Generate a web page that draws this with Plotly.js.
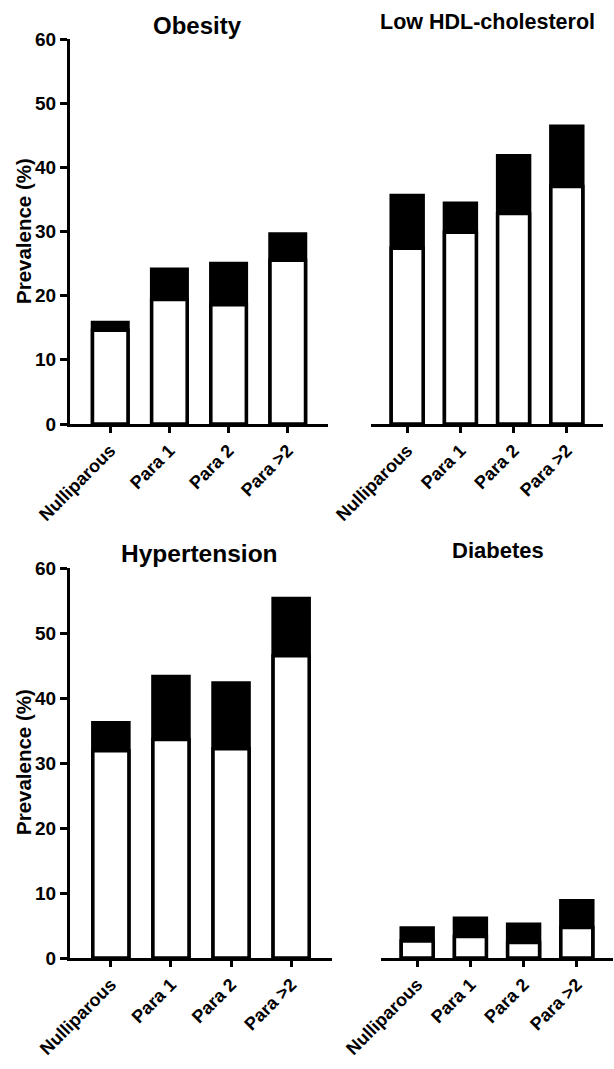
<!DOCTYPE html>
<html>
<head>
<meta charset="utf-8">
<script src="https://cdn.plot.ly/plotly-3.0.1.min.js"></script>
<style>
html,body{margin:0;padding:0;background:#fff;}
#chart{width:614px;height:1069px;}
</style>
</head>
<body>
<div id="chart"></div>
<script>
// Data
const categories = ['Nulliparous', 'Para 1', 'Para 2', 'Para >2'];

const obesityTotal = [15.8, 24.1, 25.0, 29.6];
const obesityLower = [14.6, 19.4, 18.6, 25.5];

const hdlTotal = [35.6, 34.4, 41.8, 46.4];
const hdlLower = [27.4, 29.9, 32.8, 37.0];

const hyperTotal = [36.2, 43.3, 42.3, 55.3];
const hyperLower = [31.9, 33.6, 32.2, 46.5];

const diabTotal = [4.6, 6.1, 5.2, 8.8];
const diabLower = [2.6, 3.3, 2.4, 4.7];

const yTickVals = [0, 10, 20, 30, 40, 50, 60];
const panelTitles = ['Obesity', 'Low HDL-cholesterol', 'Hypertension', 'Diabetes'];
const yTitle = 'Prevalence (%)';

const FONT = 'Liberation Sans, Arial, Helvetica, sans-serif';
const W = 614, H = 1069;

function barPair(totals, lowers, xa, ya) {
  return [
    {type: 'bar', x: categories, y: totals, xaxis: xa, yaxis: ya, width: 0.6,
     marker: {color: '#000', line: {color: '#000', width: 3.5}}, showlegend: false, hoverinfo: 'skip'},
    {type: 'bar', x: categories, y: lowers, xaxis: xa, yaxis: ya, width: 0.6,
     marker: {color: '#fff', line: {color: '#000', width: 3.5}}, showlegend: false, hoverinfo: 'skip'}
  ];
}

const data = [].concat(
  barPair(obesityTotal, obesityLower, 'x', 'y'),
  barPair(hdlTotal, hdlLower, 'x2', 'y2'),
  barPair(hyperTotal, hyperLower, 'x3', 'y3'),
  barPair(diabTotal, diabLower, 'x4', 'y4')
);

function xAx(d0, d1, anchor) {
  return {
    domain: [d0 / W, d1 / W], anchor: anchor, type: 'category', range: [-0.68, 3.68],
    showline: true, linecolor: '#000', linewidth: 3,
    ticks: 'outside', ticklen: 6, tickwidth: 3, tickcolor: '#000',
    tickangle: -45, showgrid: false, zeroline: false, fixedrange: true,
    tickfont: {family: FONT, size: 18, color: '#000', weight: 700}
  };
}
function yAxLeft(top, zero, anchor) {
  return {
    domain: [(H - zero) / H, (H - top) / H], anchor: anchor, range: [0, 60],
    tickvals: yTickVals, ticktext: yTickVals.map(String),
    showline: true, linecolor: '#000', linewidth: 3,
    ticks: 'outside', ticklen: 7, tickwidth: 3, tickcolor: '#000',
    showgrid: false, zeroline: false, fixedrange: true,
    tickfont: {family: FONT, size: 19, color: '#000', weight: 700}
  };
}
function yAxRight(top, zero, anchor) {
  return {
    domain: [(H - zero) / H, (H - top) / H], anchor: anchor, range: [0, 60],
    showline: false, showticklabels: false, ticks: '',
    showgrid: false, zeroline: false, fixedrange: true
  };
}

function ann(text, xpx, ypx, size, angle) {
  return {text: text, xref: 'paper', yref: 'paper', x: xpx / W, y: (H - ypx) / H,
          xanchor: 'center', yanchor: 'middle', showarrow: false, textangle: angle || 0,
          font: {family: FONT, size: size, color: '#000', weight: 700}};
}

const layout = {
  width: W, height: H,
  margin: {l: 0, r: 0, t: 0, b: 0},
  paper_bgcolor: '#fff', plot_bgcolor: '#fff',
  barmode: 'overlay',
  xaxis: xAx(70, 328, 'y'),
  yaxis: yAxLeft(39, 424, 'x'),
  xaxis2: xAx(371, 603, 'y2'),
  yaxis2: yAxRight(39, 424, 'x2'),
  xaxis3: xAx(70, 332, 'y3'),
  yaxis3: yAxLeft(568, 958, 'x3'),
  xaxis4: xAx(381, 613, 'y4'),
  yaxis4: yAxRight(568, 958, 'x4'),
  annotations: [
    ann(panelTitles[0], 198, 25, 24),
    ann(panelTitles[1], 487, 22, 21.5),
    ann(panelTitles[2], 199, 553, 24.5),
    ann(panelTitles[3], 498, 550, 22),
    ann(yTitle, 23, 231, 20.5, -90),
    ann(yTitle, 23, 762, 20.5, -90)
  ]
};

Plotly.newPlot('chart', data, layout, {staticPlot: true, displayModeBar: false});
</script>
</body>
</html>
